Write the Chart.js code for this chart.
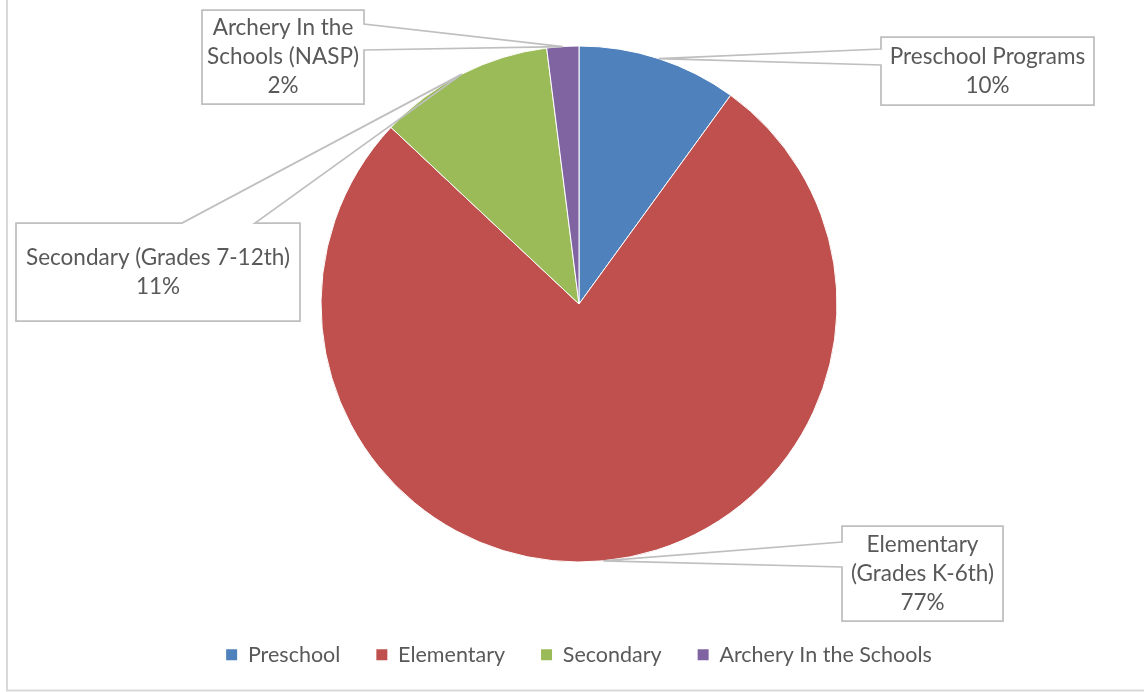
<!DOCTYPE html>
<html>
<head>
<meta charset="utf-8">
<script src="https://cdn.jsdelivr.net/npm/chart.js@4"></script>
<style>
  html, body { margin: 0; padding: 0; background: #ffffff; }
  #wrap { width: 1144px; height: 692px; position: relative; }
</style>
</head>
<body>
<div id="wrap"><canvas id="c" width="1144" height="692"></canvas></div>
<script>
// ---- data ----
const categories = ["Preschool", "Elementary", "Secondary", "Archery In the Schools"];
const calloutLabels = [
  ["Preschool Programs"],
  ["Elementary", "(Grades K-6th)"],
  ["Secondary (Grades 7-12th)"],
  ["Archery In the", "Schools (NASP)"]
];
const values = [10, 77, 11, 2];
const sliceColors = ["#4F81BD", "#C0504D", "#9BBB59", "#8064A2"];

// ---- layout of the callout boxes (positions only) ----
const calloutBoxes = [
  { x1: 881, y1: 37,  x2: 1094, y2: 105, side: "left",  a: 49,  b: 65 },
  { x1: 842, y1: 526, x2: 1003, y2: 621, side: "left",  a: 542, b: 567 },
  { x1: 16,  y1: 223, x2: 300,  y2: 321, side: "top",   a: 182, b: 255 },
  { x1: 202, y1: 10,  x2: 364,  y2: 104, side: "right", a: 24,  b: 50 }
];

const FONT = "Lato, 'Open Sans', sans-serif";
const TEXT_COLOR = "#595959";
const LINE_COLOR = "#BFBFBF";

const framePlugin = {
  id: "frame",
  beforeDraw(chart) {
    const ctx = chart.ctx;
    ctx.save();
    ctx.fillStyle = "#ffffff";
    ctx.fillRect(0, 0, chart.width, chart.height);
    ctx.strokeStyle = "#D9D9D9";
    ctx.lineWidth = 2;
    ctx.beginPath();
    ctx.moveTo(7, 0);
    ctx.lineTo(7, 690.5);
    ctx.lineTo(chart.width, 690.5);
    ctx.stroke();
    ctx.restore();
  }
};

const calloutPlugin = {
  id: "callouts",
  afterDatasetsDraw(chart) {
    const ctx = chart.ctx;
    const meta = chart.getDatasetMeta(0);
    const data = chart.data.datasets[0].data;
    const total = data.reduce((s, v) => s + v, 0);
    ctx.save();
    meta.data.forEach((arc, i) => {
      const p = arc.getProps(["x", "y", "startAngle", "endAngle", "outerRadius"], true);
      const mid = (p.startAngle + p.endAngle) / 2;
      const tx = p.x + Math.cos(mid) * p.outerRadius;
      const ty = p.y + Math.sin(mid) * p.outerRadius;
      const b = calloutBoxes[i];
      ctx.fillStyle = "#ffffff";
      ctx.fillRect(b.x1, b.y1, b.x2 - b.x1, b.y2 - b.y1);
      ctx.beginPath();
      if (b.side === "left") {
        ctx.moveTo(b.x1, b.y1);
        ctx.lineTo(b.x2, b.y1);
        ctx.lineTo(b.x2, b.y2);
        ctx.lineTo(b.x1, b.y2);
        ctx.lineTo(b.x1, b.b);
        ctx.lineTo(tx, ty);
        ctx.lineTo(b.x1, b.a);
        ctx.closePath();
      } else if (b.side === "right") {
        ctx.moveTo(b.x1, b.y1);
        ctx.lineTo(b.x2, b.y1);
        ctx.lineTo(b.x2, b.a);
        ctx.lineTo(tx, ty);
        ctx.lineTo(b.x2, b.b);
        ctx.lineTo(b.x2, b.y2);
        ctx.lineTo(b.x1, b.y2);
        ctx.closePath();
      } else {
        ctx.moveTo(b.x1, b.y1);
        ctx.lineTo(b.a, b.y1);
        ctx.lineTo(tx, ty);
        ctx.lineTo(b.b, b.y1);
        ctx.lineTo(b.x2, b.y1);
        ctx.lineTo(b.x2, b.y2);
        ctx.lineTo(b.x1, b.y2);
        ctx.closePath();
      }
      ctx.strokeStyle = LINE_COLOR;
      ctx.lineWidth = 1.75;
      ctx.lineJoin = "miter";
      ctx.stroke();
      const lines = calloutLabels[i].concat([Math.round(data[i] / total * 100) + "%"]);
      const lh = 29;
      const cx = (b.x1 + b.x2) / 2;
      const cy = (b.y1 + b.y2) / 2;
      ctx.fillStyle = TEXT_COLOR;
      ctx.font = "22.5px " + FONT;
      ctx.textAlign = "center";
      ctx.textBaseline = "middle";
      lines.forEach((t, k) => {
        ctx.fillText(t, cx, cy + (k - (lines.length - 1) / 2) * lh);
      });
    });
    ctx.restore();
  }
};

new Chart(document.getElementById("c"), {
  type: "pie",
  data: {
    labels: categories,
    datasets: [{
      data: values,
      backgroundColor: sliceColors,
      borderColor: "#ffffff",
      borderWidth: 1
    }]
  },
  options: {
    responsive: false,
    animation: false,
    radius: 258,
    layout: { padding: { left: 14, right: 0, top: -4.5, bottom: 16.5 } },
    plugins: {
      tooltip: { enabled: false },
      legend: {
        display: true,
        position: "bottom",
        labels: {
          boxWidth: 11,
          boxHeight: 11,
          padding: 36,
          color: TEXT_COLOR,
          font: { family: FONT, size: 21.5 },
          generateLabels(chart) {
            const ds = chart.data.datasets[0];
            return chart.data.labels.map((l, i) => ({
              text: l,
              fillStyle: ds.backgroundColor[i],
              strokeStyle: ds.backgroundColor[i],
              lineWidth: 0,
              fontColor: TEXT_COLOR,
              hidden: false,
              index: i
            }));
          }
        }
      }
    }
  },
  plugins: [framePlugin, calloutPlugin]
});
</script>
</body>
</html>
